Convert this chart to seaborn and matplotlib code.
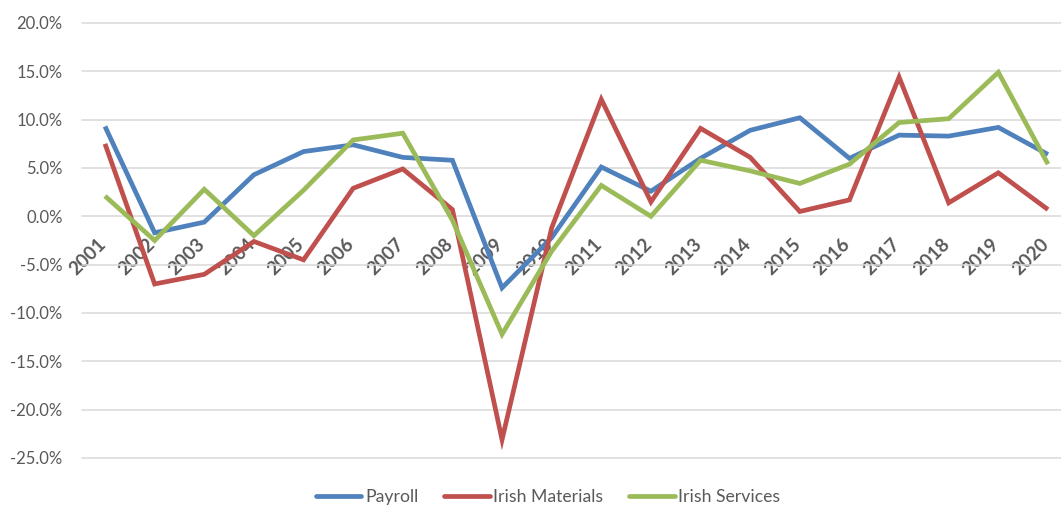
import matplotlib
matplotlib.use("Agg")
import matplotlib.pyplot as plt
import matplotlib.transforms as mtransforms
from matplotlib.ticker import PercentFormatter, MultipleLocator
import numpy as np
import pandas as pd
import seaborn as sns

# Annual growth rates (in %) by year
years = list(range(2001, 2021))
payroll = [9.3, -1.7, -0.6, 4.3, 6.7, 7.4, 6.1, 5.8, -7.4, -2.2,
           5.1, 2.6, 6.0, 8.9, 10.2, 6.0, 8.4, 8.3, 9.2, 6.4]
irish_materials = [7.5, -7.0, -6.0, -2.6, -4.5, 2.9, 4.9, 0.7, -23.1, -1.2,
                   12.1, 1.5, 9.1, 6.1, 0.5, 1.7, 14.4, 1.4, 4.5, 0.7]
irish_services = [2.1, -2.5, 2.8, -2.0, 2.7, 7.9, 8.6, -0.4, -12.2, -3.6,
                  3.2, 0.0, 5.8, 4.7, 3.4, 5.4, 9.7, 10.1, 14.9, 5.4]
series_names = ["Payroll", "Irish Materials", "Irish Services"]
colors = ["#4F81BD", "#C0504D", "#9BBB59"]

df = pd.DataFrame({
    "Year": years * 3,
    "Growth": np.array(payroll + irish_materials + irish_services) / 100.0,
    "Series": sum([[n] * len(years) for n in series_names], []),
})

sns.set_style("white")
plt.rcParams["font.family"] = ["Lato", "DejaVu Sans"]
plt.rcParams["axes.unicode_minus"] = False

W, H = 1061, 507
fig = plt.figure(figsize=(W / 100, H / 100), dpi=100)
left_px, right_px, top_px, bottom_px = 82, 1061, 23, 458
ax = fig.add_axes([left_px / W, 1 - bottom_px / H,
                   (right_px - left_px) / W, (bottom_px - top_px) / H])

sns.lineplot(data=df, x="Year", y="Growth", hue="Series",
             hue_order=series_names, palette=colors, linewidth=3.4,
             legend=False, ax=ax, zorder=3)
for ln in ax.lines:
    ln.set_solid_joinstyle("miter")
    ln.set_solid_capstyle("butt")

# Category positions: one slot per year
step_px = 49.63
ax.set_xlim(years[0] + (left_px - 105) / step_px, years[0] + (right_px - 105) / step_px)
ax.set_ylim(-0.25, 0.20)
ax.yaxis.set_major_locator(MultipleLocator(0.05))
ax.yaxis.set_major_formatter(PercentFormatter(1.0, decimals=1))

ax.grid(axis="y", color="#D9D9D9", linewidth=1.1, zorder=0)
ax.grid(axis="x", visible=False)
for gl in ax.get_ygridlines():
    gl.set_clip_on(False)

for side in ["top", "right", "left"]:
    ax.spines[side].set_visible(False)
ax.spines["bottom"].set_position(("data", 0))
ax.spines["bottom"].set_visible(False)

ax.set_xticks(years)
ax.set_xticklabels([str(y) for y in years], rotation=45, ha="right",
                   rotation_mode="default")
ax.tick_params(axis="x", length=0, pad=14, labelsize=13.5, labelcolor="#595959")
ax.tick_params(axis="y", length=0, pad=14, labelsize=12, labelcolor="#595959")
offset = mtransforms.ScaledTranslation(4 / 100, 0, fig.dpi_scale_trans)
for lbl in ax.get_xticklabels():
    lbl.set_transform(lbl.get_transform() + offset)
    lbl.set_fontweight("bold")
ax.set_xlabel("")
ax.set_ylabel("")

handles = [plt.Line2D([0], [0], color=c, lw=3.4, solid_capstyle="round") for c in colors]
fig.legend(handles, series_names, loc="center", bbox_to_anchor=(548 / W, 1 - 497 / H),
           ncol=3, frameon=False, fontsize=12.7, labelcolor="#595959",
           handlelength=2.6, handletextpad=0.2, columnspacing=1.45)

fig.savefig("out.png", dpi=100)
